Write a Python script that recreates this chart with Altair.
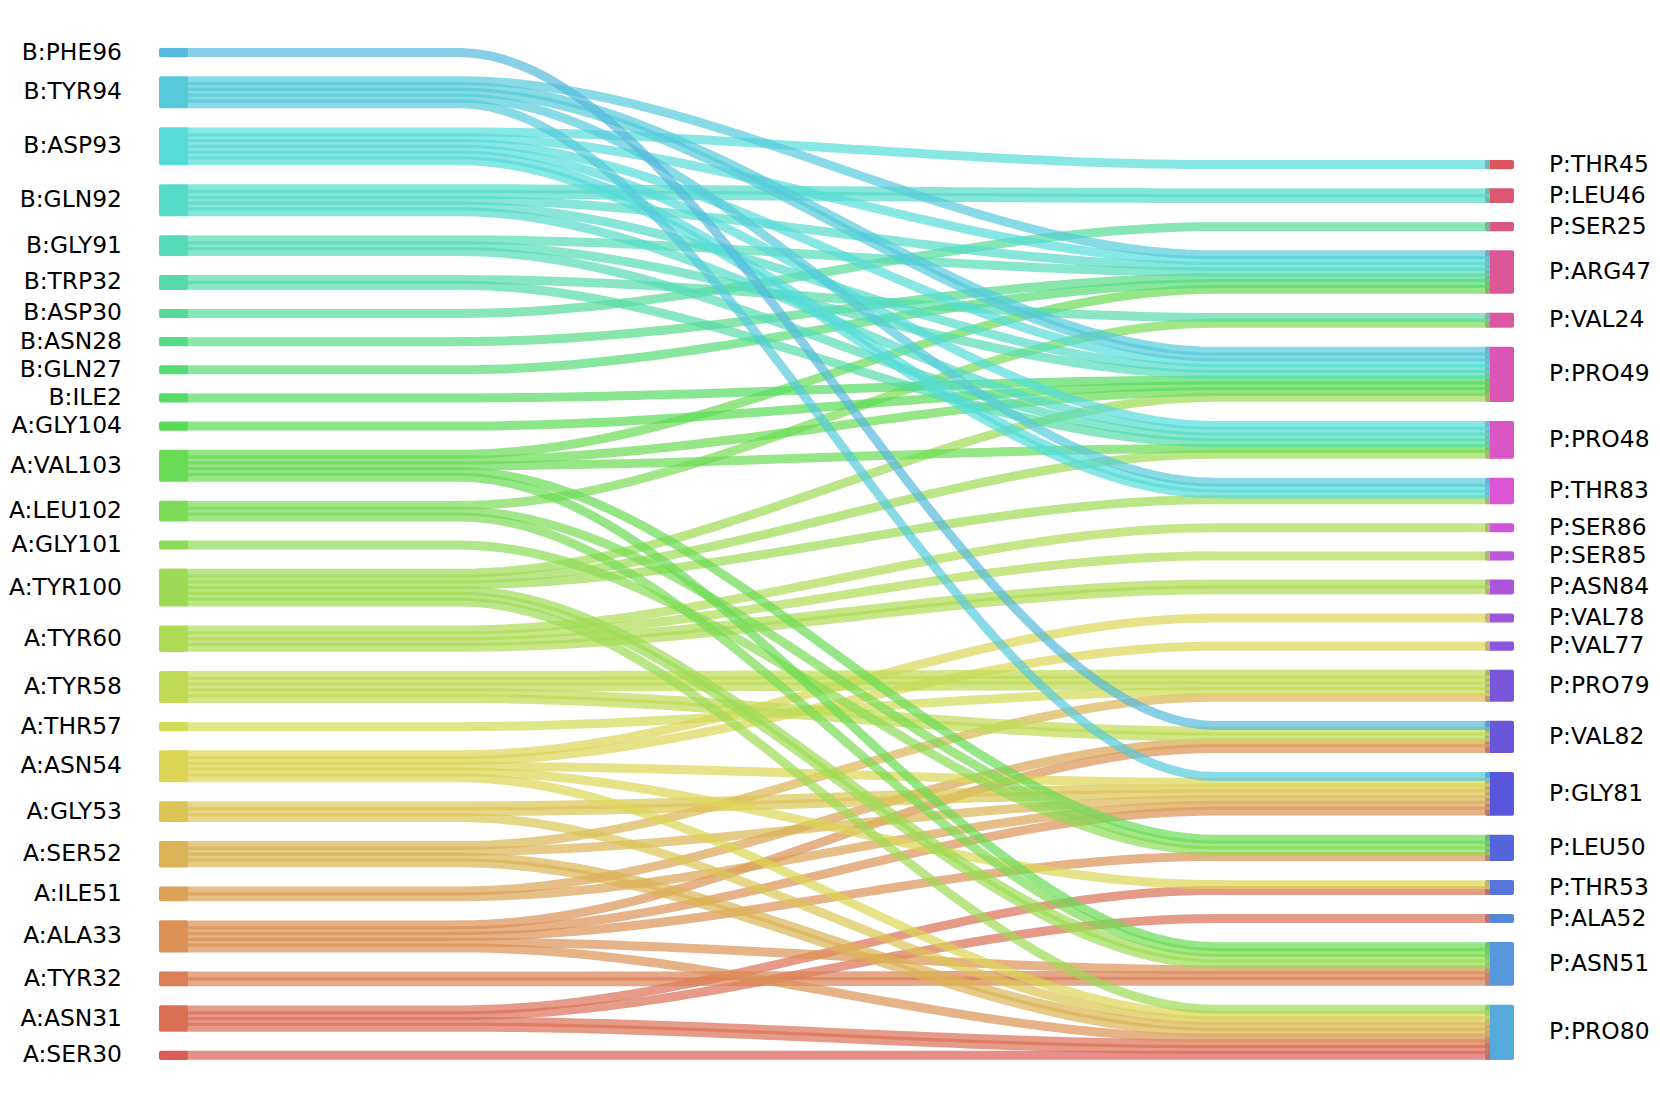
import altair as alt
import pandas as pd
import numpy as np
import colorsys

# ---------------- data ----------------
left_nodes = ["B:PHE96", "B:TYR94", "B:ASP93", "B:GLN92", "B:GLY91", "B:TRP32",
              "B:ASP30", "B:ASN28", "B:GLN27", "B:ILE2", "A:GLY104", "A:VAL103",
              "A:LEU102", "A:GLY101", "A:TYR100", "A:TYR60", "A:TYR58", "A:THR57",
              "A:ASN54", "A:GLY53", "A:SER52", "A:ILE51", "A:ALA33", "A:TYR32",
              "A:ASN31", "A:SER30"]
right_nodes = ["P:THR45", "P:LEU46", "P:SER25", "P:ARG47", "P:VAL24", "P:PRO49",
               "P:PRO48", "P:THR83", "P:SER86", "P:SER85", "P:ASN84", "P:VAL78",
               "P:VAL77", "P:PRO79", "P:VAL82", "P:GLY81", "P:LEU50", "P:THR53",
               "P:ALA52", "P:ASN51", "P:PRO80"]

link_source = ["B:PHE96",
               "B:TYR94", "B:TYR94", "B:TYR94", "B:TYR94",
               "B:ASP93", "B:ASP93", "B:ASP93", "B:ASP93", "B:ASP93",
               "B:GLN92", "B:GLN92", "B:GLN92", "B:GLN92",
               "B:GLY91", "B:GLY91", "B:GLY91",
               "B:TRP32", "B:TRP32",
               "B:ASP30", "B:ASN28", "B:GLN27", "B:ILE2", "A:GLY104",
               "A:VAL103", "A:VAL103", "A:VAL103", "A:VAL103", "A:VAL103",
               "A:LEU102", "A:LEU102", "A:LEU102",
               "A:GLY101",
               "A:TYR100", "A:TYR100", "A:TYR100", "A:TYR100", "A:TYR100",
               "A:TYR60", "A:TYR60", "A:TYR60",
               "A:TYR58", "A:TYR58",
               "A:THR57",
               "A:ASN54", "A:ASN54", "A:ASN54", "A:ASN54", "A:ASN54",
               "A:GLY53", "A:GLY53",
               "A:SER52", "A:SER52", "A:SER52",
               "A:ILE51", "A:ILE51",
               "A:ALA33", "A:ALA33", "A:ALA33", "A:ALA33", "A:ALA33",
               "A:TYR32",
               "A:ASN31", "A:ASN31", "A:ASN31",
               "A:SER30"]
link_target = ["P:VAL82",
               "P:ARG47", "P:PRO49", "P:THR83", "P:GLY81",
               "P:THR45", "P:ARG47", "P:PRO49", "P:PRO48", "P:THR83",
               "P:LEU46", "P:ARG47", "P:PRO49", "P:PRO48",
               "P:ARG47", "P:PRO49", "P:PRO48",
               "P:VAL24", "P:PRO48",
               "P:SER25", "P:ARG47", "P:ARG47", "P:PRO49", "P:PRO49",
               "P:ARG47", "P:PRO49", "P:PRO48", "P:LEU50", "P:ASN51",
               "P:VAL24", "P:LEU50", "P:ASN51",
               "P:LEU50",
               "P:PRO49", "P:PRO48", "P:THR83", "P:ASN51", "P:PRO80",
               "P:SER86", "P:SER85", "P:ASN84",
               "P:PRO79", "P:VAL82",
               "P:PRO79",
               "P:VAL78", "P:VAL77", "P:GLY81", "P:THR53", "P:PRO80",
               "P:GLY81", "P:PRO80",
               "P:PRO79", "P:GLY81", "P:PRO80",
               "P:VAL82", "P:GLY81",
               "P:VAL82", "P:GLY81", "P:LEU50", "P:ASN51", "P:PRO80",
               "P:ASN51",
               "P:THR53", "P:ALA52", "P:PRO80",
               "P:PRO80"]
link_count = [1,
              1, 2, 1, 1,
              1, 1, 1, 1, 2,
              2, 1, 1, 1,
              1, 1, 1,
              1, 1,
              1, 1, 1, 1, 1,
              1, 1, 1, 1, 1,
              1, 1, 1,
              1,
              1, 1, 1, 2, 1,
              1, 1, 2,
              3, 2,
              1,
              1, 1, 1, 1, 1,
              2, 1,
              1, 1, 2,
              1, 1,
              1, 1, 1, 1, 1,
              2,
              1, 1, 2,
              1]

# ---------------- layout (sankey) ----------------
W, H = 1644, 1092
OFF = 8
unit, extra, gap = 5.75, 3.4, 19.0
LX0, LX1 = 159 - OFF, 188 - OFF
RX0, RX1 = 1485 - OFF, 1514 - OFF
TOP = 48 - OFF
FONT = 23.4

totals = {}
for s, t, c in zip(link_source, link_target, link_count):
    totals[s] = totals.get(s, 0) + c
    totals[t] = totals.get(t, 0) + c

n_all = len(left_nodes) + len(right_nodes)
order_idx = list(reversed(left_nodes)) + list(reversed(right_nodes))


def hls_color(i):
    h = (0.01 + i / n_all) % 1.0
    r, g_, b = colorsys.hls_to_rgb(h, 0.6, 0.65)
    return "#%02x%02x%02x" % (int(r * 255), int(g_ * 255), int(b * 255))


colors = {name: hls_color(i) for i, name in enumerate(order_idx)}

node_pos = {}
y = TOP
for name in left_nodes:
    h = totals[name] * unit + extra
    node_pos[name] = (LX0, LX1, y, y + h)
    y += h + gap
bottom = y - gap
right_total = sum(totals[n] * unit + extra for n in right_nodes) + gap * (len(right_nodes) - 1)
y = bottom - right_total
for name in right_nodes:
    h = totals[name] * unit + extra
    node_pos[name] = (RX0, RX1, y, y + h)
    y += h + gap

nodes_df = pd.DataFrame([
    {"name": n, "x0": node_pos[n][0], "x1": node_pos[n][1],
     "y0": node_pos[n][2], "y1": node_pos[n][3],
     "yc": (node_pos[n][2] + node_pos[n][3]) / 2, "color": colors[n],
     "side": "L" if n in left_nodes else "R",
     "lx": 114 if n in left_nodes else 1541}
    for n in left_nodes + right_nodes
])

links = list(zip(link_source, link_target, link_count))
src_slot, tgt_slot = {}, {}
for n in left_nodes:
    outs = sorted([l for l in links if l[0] == n], key=lambda l: right_nodes.index(l[1]))
    k = 0
    for l in outs:
        src_slot[(l[0], l[1])] = k
        k += l[2]
for n in right_nodes:
    ins = sorted([l for l in links if l[1] == n], key=lambda l: left_nodes.index(l[0]))
    k = 0
    for l in ins:
        tgt_slot[(l[0], l[1])] = k
        k += l[2]

XA, XB = LX1 - 3, RX0 + 5
a = 0.21
rows = []
sid = 0
for s, t, c in sorted(links, key=lambda l: -left_nodes.index(l[0])):
    for k in range(c):
        ya = node_pos[s][2] + extra / 2 + (src_slot[(s, t)] + k + 0.5) * unit
        yb = node_pos[t][2] + extra / 2 + (tgt_slot[(s, t)] + k + 0.5) * unit
        for i in range(91):
            f = i / 90
            sx = min(max((f - a) / (1 - 2 * a), 0), 1)
            sm = sx * sx * (3 - 2 * sx)
            rows.append({"sid": sid, "i": i, "x": XA + (XB - XA) * f,
                         "y": ya + (yb - ya) * sm, "color": colors[s]})
        sid += 1
strands_df = pd.DataFrame(rows)

xs = alt.Scale(domain=[0, W], nice=False, zero=False)
ys = alt.Scale(domain=[0, H], nice=False, zero=False, reverse=True)

node_layer = alt.Chart(nodes_df).mark_rect(cornerRadius=2).encode(
    x=alt.X("x0:Q", scale=xs, axis=None), x2="x1:Q",
    y=alt.Y("y0:Q", scale=ys, axis=None), y2="y1:Q",
    color=alt.Color("color:N", scale=None),
)

link_layer = alt.Chart(strands_df).mark_line(strokeWidth=9.0, opacity=0.7, strokeCap="butt").encode(
    x=alt.X("x:Q", scale=xs, axis=None),
    y=alt.Y("y:Q", scale=ys, axis=None),
    detail="sid:N",
    order="i:Q",
    color=alt.Color("color:N", scale=None),
)

left_text = alt.Chart(nodes_df[nodes_df.side == "L"]).mark_text(
    align="right", baseline="middle", fontSize=FONT, font="DejaVu Sans", color="#000000"
).encode(x=alt.X("lx:Q", scale=xs, axis=None), y=alt.Y("yc:Q", scale=ys, axis=None), text="name:N")

right_text = alt.Chart(nodes_df[nodes_df.side == "R"]).mark_text(
    align="left", baseline="middle", fontSize=FONT, font="DejaVu Sans", color="#000000"
).encode(x=alt.X("lx:Q", scale=xs, axis=None), y=alt.Y("yc:Q", scale=ys, axis=None), text="name:N")

chart = alt.layer(node_layer, link_layer, left_text, right_text).properties(
    width=W, height=H, autosize=alt.AutoSizeParams(type="none"), padding=0
).configure_view(stroke=None)

chart.save("out.html", embed_options={"renderer": "svg", "actions": False})
